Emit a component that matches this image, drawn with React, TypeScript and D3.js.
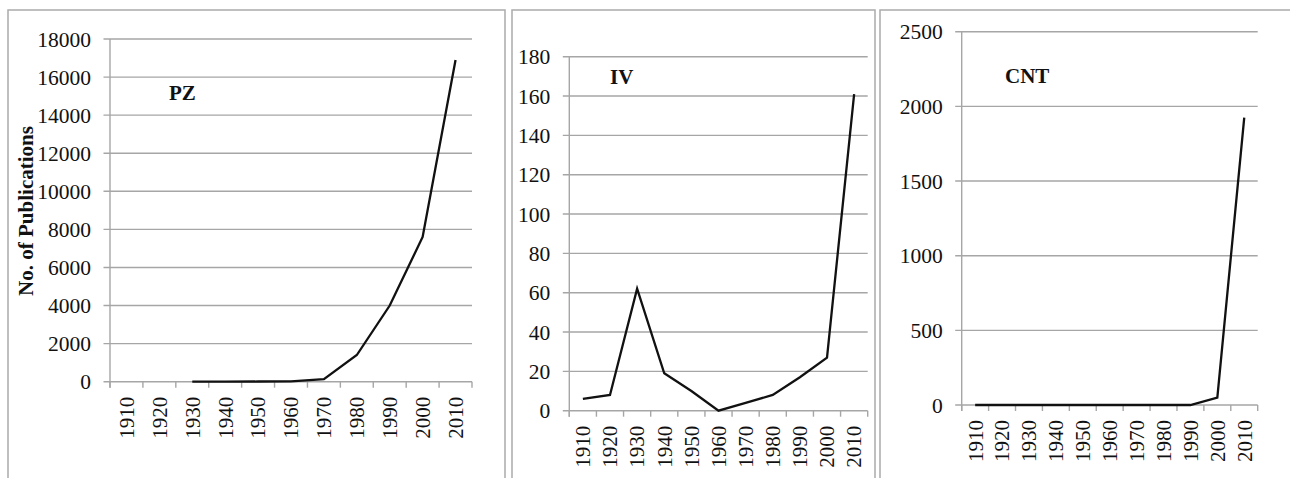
import React from 'react';
import * as d3 from 'd3';

// decades on the category axis
const decades = ['1910', '1920', '1930', '1940', '1950', '1960', '1970', '1980', '1990', '2000', '2010'];

// publications per decade (null = no point)
const pzValues: (number | null)[] = [null, null, 0, 0, 10, 20, 130, 1400, 4000, 7600, 16900];
const ivValues: (number | null)[] = [6, 8, 62, 19, 10, 0, 4, 8, 17, 27, 161];
const cntValues: (number | null)[] = [0, 0, 0, 0, 0, 0, 0, 0, 0, 50, 1925];

const pzTicks = [0, 2000, 4000, 6000, 8000, 10000, 12000, 14000, 16000, 18000];
const ivTicks = [0, 20, 40, 60, 80, 100, 120, 140, 160, 180];
const cntTicks = [0, 500, 1000, 1500, 2000, 2500];

const GRID = '#a6a6a6';
const BORDER = '#ababab';
const serif: React.CSSProperties = { fontFamily: "'Liberation Serif', 'DejaVu Serif', serif" };

type PanelProps = {
  name: string;
  values: (number | null)[];
  ticks: number[];
  box: [number, number, boolean];
  plot: { left: number; right: number; top: number; bottom: number };
  title: [number, number];
};

function Panel({ name, values, ticks, box, plot, title }: PanelProps) {
  const x = d3.scaleBand<string>().domain(decades).range([plot.left, plot.right]).padding(0);
  const y = d3
    .scaleLinear()
    .domain([0, ticks[ticks.length - 1]])
    .range([plot.bottom, plot.top]);

  const pts = decades.map((d, i) => ({ d, v: values[i] }));
  const line = d3
    .line<{ d: string; v: number | null }>()
    .defined(p => p.v !== null)
    .x(p => (x(p.d) as number) + x.bandwidth() / 2)
    .y(p => y(p.v as number));

  const edges = decades.map(d => x(d) as number).concat([plot.right]);

  return (
    <g>
      {/* panel frame, open at the bottom */}
      <path
        d={box[2] ? `M${box[0]},478 V10 H${box[1]} V478` : `M${box[0]},478 V10 H${box[1]}`}
        fill="none"
        stroke={BORDER}
        strokeWidth={1.5}
      />
      {ticks.map(t => (
        <g key={t}>
          <line x1={plot.left - 6.5} x2={plot.right} y1={y(t)} y2={y(t)} stroke={GRID} strokeWidth={1.4} />
          <text
            x={plot.left - 19}
            y={y(t)}
            dy="0.35em"
            textAnchor="end"
            style={serif}
            fontSize={21.5}
            fill="#111"
          >
            {t}
          </text>
        </g>
      ))}
      <line x1={plot.left} x2={plot.left} y1={plot.top} y2={plot.bottom + 6} stroke={GRID} strokeWidth={1.4} />
      {edges.map((e, i) => (
        <line key={i} x1={e} x2={e} y1={plot.bottom} y2={plot.bottom + 6} stroke={GRID} strokeWidth={1.4} />
      ))}
      {decades.map(d => {
        const cx = (x(d) as number) + x.bandwidth() / 2;
        const ty = plot.bottom + 15;
        return (
          <text
            key={d}
            transform={`translate(${cx},${ty}) rotate(-90)`}
            dy="0.35em"
            textAnchor="end"
            style={serif}
            fontSize={21}
            fill="#111"
          >
            {d}
          </text>
        );
      })}
      <path d={line(pts) || ''} fill="none" stroke="#111" strokeWidth={2.3} strokeLinejoin="miter" />
      <text x={title[0]} y={title[1]} dy="0.35em" style={serif} fontWeight="bold" fontSize={21} fill="#111">
        {name}
      </text>
    </g>
  );
}

export default function App() {
  return (
    <svg width={1290} height={478} style={{ position: 'absolute', left: 0, top: 0, background: '#fff' }}>
      <rect width={1290} height={478} fill="#fff" />
      <Panel
        name="PZ"
        values={pzValues}
        ticks={pzTicks}
        box={[8, 505, true]}
        plot={{ left: 110, right: 472, top: 39, bottom: 381.7 }}
        title={[169, 93]}
      />
      <text
        transform="translate(26,211) rotate(-90)"
        dy="0.35em"
        textAnchor="middle"
        style={serif}
        fontWeight="bold"
        fontSize={21}
        fill="#111"
      >
        No. of Publications
      </text>
      <Panel
        name="IV"
        values={ivValues}
        ticks={ivTicks}
        box={[512, 875, true]}
        plot={{ left: 569.3, right: 867.7, top: 56.7, bottom: 410.7 }}
        title={[610, 77]}
      />
      <Panel
        name="CNT"
        values={cntValues}
        ticks={cntTicks}
        box={[880, 1290, false]}
        plot={{ left: 961.7, right: 1257.7, top: 31.7, bottom: 405 }}
        title={[1005, 76]}
      />
    </svg>
  );
}
